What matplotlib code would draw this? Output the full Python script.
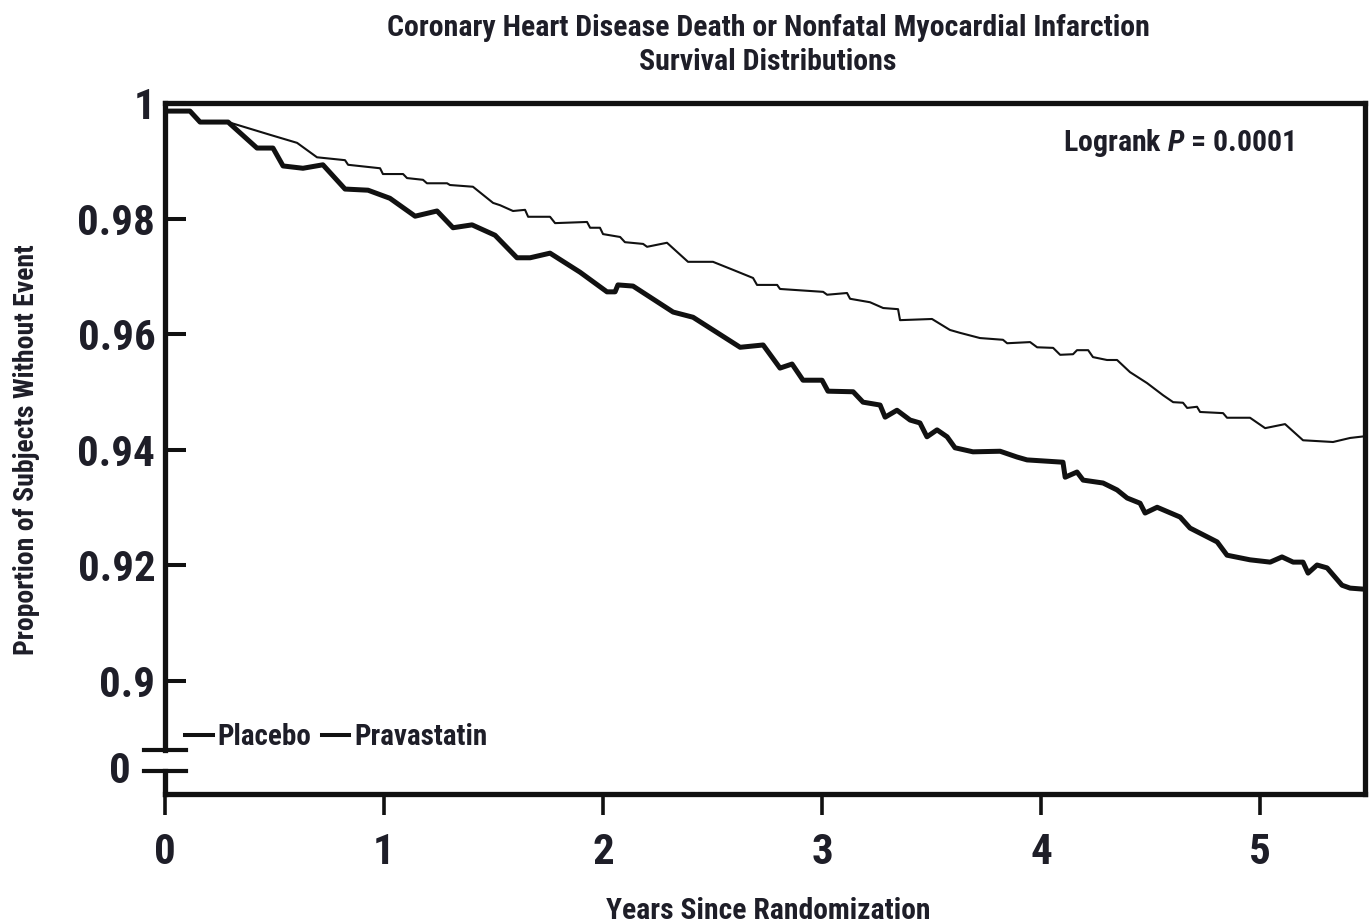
import matplotlib
matplotlib.use("Agg")
import matplotlib.pyplot as plt
from matplotlib.lines import Line2D

plt.rcParams['font.family'] = ['Roboto Condensed', 'Archivo Narrow', 'DejaVu Sans']
plt.rcParams['font.weight'] = 'bold'
plt.rcParams['mathtext.fontset'] = 'custom'
plt.rcParams['mathtext.it'] = 'Roboto Condensed:italic:bold'
plt.rcParams['mathtext.rm'] = 'Roboto Condensed:bold'

# ---------------- data ----------------
placebo_years = [0.0, 0.114, 0.160, 0.288, 0.420, 0.493, 0.539, 0.630, 0.721, 0.822,
                 0.927, 1.027, 1.142, 1.242, 1.315, 1.402, 1.507, 1.607, 1.667, 1.758,
                 1.895, 2.018, 2.055, 2.068, 2.137, 2.320, 2.411, 2.626, 2.731, 2.808,
                 2.863, 2.913, 3.000, 3.027, 3.142, 3.187, 3.265, 3.288, 3.342, 3.402,
                 3.447, 3.479, 3.525, 3.571, 3.607, 3.689, 3.813, 3.890, 3.936, 4.100,
                 4.110, 4.164, 4.192, 4.283, 4.347, 4.393, 4.452, 4.475, 4.530, 4.635,
                 4.680, 4.804, 4.849, 4.954, 5.046, 5.100, 5.151, 5.196, 5.219, 5.260,
                 5.306, 5.374, 5.411, 5.479]
placebo_surv = [0.9986, 0.9986, 0.9967, 0.9967, 0.9922, 0.9922, 0.9891, 0.9887, 0.9893, 0.9851,
                0.9849, 0.9835, 0.9804, 0.9813, 0.9784, 0.9789, 0.9771, 0.9732, 0.9732, 0.9740,
                0.9707, 0.9673, 0.9673, 0.9685, 0.9683, 0.9638, 0.9629, 0.9577, 0.9581, 0.9541,
                0.9548, 0.9520, 0.9520, 0.9501, 0.9500, 0.9482, 0.9477, 0.9456, 0.9468, 0.9451,
                0.9446, 0.9422, 0.9434, 0.9422, 0.9403, 0.9396, 0.9397, 0.9387, 0.9382, 0.9378,
                0.9352, 0.9361, 0.9347, 0.9342, 0.9330, 0.9316, 0.9307, 0.9290, 0.9300, 0.9283,
                0.9264, 0.9240, 0.9217, 0.9209, 0.9205, 0.9214, 0.9205, 0.9205, 0.9186, 0.9200,
                0.9195, 0.9165, 0.9160, 0.9158]

prava_years = [0.0, 0.114, 0.160, 0.288, 0.479, 0.603, 0.694, 0.822, 0.836, 0.982,
               0.995, 1.087, 1.105, 1.178, 1.196, 1.288, 1.301, 1.406, 1.452, 1.498,
               1.530, 1.589, 1.644, 1.658, 1.758, 1.781, 1.927, 1.941, 1.986, 2.000,
               2.078, 2.100, 2.183, 2.201, 2.292, 2.388, 2.502, 2.594, 2.685, 2.703,
               2.795, 2.808, 2.886, 3.005, 3.023, 3.114, 3.128, 3.219, 3.279, 3.347,
               3.356, 3.502, 3.584, 3.630, 3.721, 3.826, 3.845, 3.950, 3.982, 4.055,
               4.087, 4.146, 4.164, 4.215, 4.237, 4.301, 4.347, 4.406, 4.484, 4.557,
               4.603, 4.648, 4.667, 4.712, 4.726, 4.831, 4.849, 4.954, 5.023, 5.114,
               5.196, 5.333, 5.411, 5.479]
prava_surv = [0.9986, 0.9986, 0.9967, 0.9967, 0.9945, 0.9931, 0.9906, 0.9901, 0.9893, 0.9887,
              0.9877, 0.9877, 0.9870, 0.9867, 0.9861, 0.9861, 0.9858, 0.9855, 0.9841, 0.9827,
              0.9823, 0.9813, 0.9815, 0.9803, 0.9803, 0.9792, 0.9794, 0.9784, 0.9784, 0.9773,
              0.9768, 0.9759, 0.9756, 0.9751, 0.9758, 0.9725, 0.9725, 0.9711, 0.9697, 0.9685,
              0.9685, 0.9678, 0.9676, 0.9673, 0.9668, 0.9671, 0.9661, 0.9655, 0.9645, 0.9643,
              0.9624, 0.9626, 0.9607, 0.9602, 0.9593, 0.9590, 0.9584, 0.9586, 0.9577, 0.9576,
              0.9564, 0.9565, 0.9572, 0.9572, 0.9560, 0.9555, 0.9555, 0.9534, 0.9515, 0.9494,
              0.9482, 0.9481, 0.9472, 0.9474, 0.9465, 0.9463, 0.9455, 0.9455, 0.9437, 0.9444,
              0.9416, 0.9413, 0.9420, 0.9423]

x_ticks = [0, 1, 2, 3, 4, 5]
y_ticks = [0.90, 0.92, 0.94, 0.96, 0.98, 1.00]
y_tick_labels = ['0.9', '0.92', '0.94', '0.96', '0.98', '1']
series_labels = ['Placebo', 'Pravastatin']

title = ('Coronary Heart Disease Death or Nonfatal Myocardial Infarction\n'
         'Survival Distributions')
x_label = 'Years Since Randomization'
y_label = 'Proportion of Subjects Without Event'
stat_text = 'Logrank $P$ = 0.0001'

# axis-break layout (broken y axis: 0 shown below the break)
Y_BOTTOM = 0.88035
Y_ZERO = 0.88433
Y_BREAK_TOP = 0.88797
X_MAX = 5.479

# ---------------- figure ----------------
W, H = 1371, 924
fig = plt.figure(figsize=(W / 100, H / 100), dpi=100)
ax = fig.add_axes([165 / W, 1 - 794 / H, 1200 / W, 691 / H])

ink = '#111111'
text_c = '#1e1e28'

ax.plot(placebo_years, placebo_surv, color=ink, lw=3.6, solid_joinstyle='round')
ax.plot(prava_years, prava_surv, color=ink, lw=1.5, solid_joinstyle='round')

ax.set_xlim(0, X_MAX)
ax.set_ylim(Y_BOTTOM, 1.0)

for s in ['top', 'right', 'bottom']:
    ax.spines[s].set_linewidth(3.8)
    ax.spines[s].set_color(ink)
ax.spines['left'].set_visible(False)

ytr = ax.get_yaxis_transform()
# broken left spine
ax.plot([0, 0], [Y_BREAK_TOP, 1.0], transform=ytr, color=ink, lw=3.8,
        clip_on=False, solid_capstyle='projecting')
ax.plot([0, 0], [Y_BOTTOM, Y_ZERO], transform=ytr, color=ink, lw=3.8,
        clip_on=False, solid_capstyle='projecting')
# break marks
half = 21 / 1200
ax.plot([-half, half], [Y_BREAK_TOP, Y_BREAK_TOP], transform=ytr, color=ink,
        lw=3.0, clip_on=False)
ax.plot([-half, half], [Y_ZERO, Y_ZERO], transform=ytr, color=ink,
        lw=3.0, clip_on=False)
# "0" label below the break, left of the break marks
ax.text(-(165 - 131) / 1200, Y_ZERO, '0', transform=ytr, ha='right', va='center',
        fontsize=31, fontweight='bold', color=text_c)

ax.set_yticks(y_ticks)
ax.set_yticklabels(y_tick_labels)
ax.tick_params(axis='y', direction='in', length=15, width=2.9, color=ink,
               labelsize=31, pad=7, labelcolor=text_c)
ax.set_xticks(x_ticks)
ax.set_xticklabels([str(v) for v in x_ticks])
ax.tick_params(axis='x', direction='out', length=15, width=2.6, color=ink,
               labelsize=31, pad=12, labelcolor=text_c)
for lab in ax.get_xticklabels() + ax.get_yticklabels():
    lab.set_fontweight('bold')

handles = [Line2D([], [], color=ink, lw=2.9) for _ in series_labels]
leg = ax.legend(handles, series_labels, ncol=2, frameon=False,
                loc='center left', bbox_to_anchor=(20 / 1200, (794 - 737) / 691),
                borderaxespad=0, borderpad=0, handlelength=0.95, handletextpad=0.17,
                columnspacing=0.35, prop={'size': 21, 'weight': 'bold'})
for t in leg.get_texts():
    t.set_color(text_c)

ax.text((1179 - 165) / 1200, (794 - 143) / 691, stat_text, transform=ax.transAxes,
        ha='center', va='center', fontsize=21.5, fontweight='bold', color=text_c)

fig.text(768 / W, 1 - 45 / H, title, ha='center', va='center', fontsize=21.5,
         fontweight='bold', color=text_c, linespacing=1.3)
fig.text(768 / W, 1 - 911 / H, x_label, ha='center', va='center', fontsize=21.3,
         fontweight='bold', color=text_c)
fig.text(27 / W, 1 - 450 / H, y_label, ha='center', va='center', rotation=90,
         fontsize=20, fontweight='bold', color=text_c)

fig.savefig('out.png', dpi=100)
